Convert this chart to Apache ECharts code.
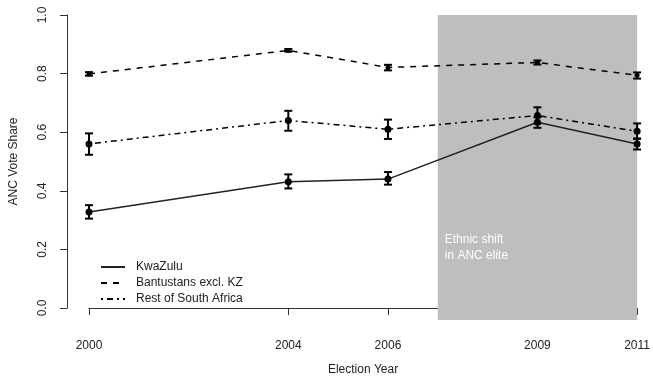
<!DOCTYPE html>
<html>
<head>
<meta charset="utf-8">
<script src="https://cdn.jsdelivr.net/npm/echarts@6/dist/echarts.min.js"></script>
<style>html,body{margin:0;padding:0;background:#fff}#c{width:653px;height:381px}</style>
</head>
<body>
<div id="c"></div>
<script>
// ---- data ----
const years = [2000, 2004, 2006, 2009, 2011];
const seriesNames = ['KwaZulu', 'Bantustans excl. KZ', 'Rest of South Africa'];
const kwazuluMean = [0.328, 0.431, 0.440, 0.634, 0.560];
const kwazuluLo   = [0.305, 0.408, 0.421, 0.615, 0.541];
const kwazuluHi   = [0.351, 0.456, 0.464, 0.651, 0.578];
const bantuMean = [0.799, 0.879, 0.821, 0.838, 0.794];
const bantuLo   = [0.793, 0.875, 0.811, 0.831, 0.783];
const bantuHi   = [0.805, 0.884, 0.830, 0.845, 0.804];
const restMean = [0.560, 0.640, 0.610, 0.657, 0.603];
const restLo   = [0.523, 0.605, 0.577, 0.630, 0.578];
const restHi   = [0.596, 0.673, 0.643, 0.685, 0.630];
const yTicks = [0, 0.2, 0.4, 0.6, 0.8, 1.0];
const shiftStart = 2007, shiftEnd = 2011;
const shiftLabel = 'Ethnic shift\nin ANC elite';
const shiftLabelPos = [2007.14, 0.262];

// ---- styles ----
const X_OFFSET = 12, Y_OFFSET = 22;
const FONT = 'Liberation Sans, Arial, Helvetica, sans-serif';
const AXIS_COLOR = '#333';

function pairs(m) { return years.map((y, i) => [y, m[i]]); }
function ebData(m, lo, hi) { return years.map((y, i) => [y, m[i], lo[i], hi[i]]); }

function errRender(r) {
  return function (params, api) {
    const x = api.value(0);
    const c = api.coord([x, api.value(1)]);
    const lo = api.coord([x, api.value(2)]);
    const hi = api.coord([x, api.value(3)]);
    const w = 4;
    const st = { stroke: '#000', lineWidth: 2 };
    return {
      type: 'group',
      children: [
        { type: 'line', shape: { x1: c[0], y1: lo[1], x2: c[0], y2: hi[1] }, style: st },
        { type: 'line', shape: { x1: c[0] - w, y1: lo[1], x2: c[0] + w, y2: lo[1] }, style: st },
        { type: 'line', shape: { x1: c[0] - w, y1: hi[1], x2: c[0] + w, y2: hi[1] }, style: st },
        { type: 'circle', shape: { cx: c[0], cy: c[1], r: r }, style: { fill: '#000' } }
      ]
    };
  };
}

const chart = echarts.init(document.getElementById('c'), null, { renderer: 'canvas' });
chart.setOption({
  animation: false,
  backgroundColor: '#fff',
  textStyle: { fontFamily: FONT },
  grid: { left: 89, right: 14, top: 15, bottom: 72 },
  xAxis: {
    type: 'value', min: 2000, max: 2011, offset: X_OFFSET,
    name: 'Election Year', nameLocation: 'middle', nameGap: 44,
    nameTextStyle: { fontSize: 12, color: '#222', fontFamily: FONT },
    axisLine: { lineStyle: { color: AXIS_COLOR, width: 1 } },
    axisTick: { length: 7, customValues: years, lineStyle: { color: AXIS_COLOR } },
    axisLabel: { customValues: years, margin: 20, fontSize: 12, color: '#222', fontFamily: FONT, formatter: v => String(v) },
    splitLine: { show: false }
  },
  yAxis: {
    type: 'value', min: 0, max: 1, interval: 0.2, offset: Y_OFFSET,
    name: 'ANC Vote Share', nameLocation: 'middle', nameGap: 47,
    nameTextStyle: { fontSize: 12, color: '#222', fontFamily: FONT },
    axisLine: { show: true, lineStyle: { color: AXIS_COLOR, width: 1 } },
    axisTick: { show: true, length: 7, customValues: yTicks, lineStyle: { color: AXIS_COLOR } },
    axisLabel: { customValues: yTicks, rotate: 90, margin: 18, fontSize: 12, color: '#222', fontFamily: FONT, formatter: v => v.toFixed(1) },
    splitLine: { show: false }
  },
  legend: {
    orient: 'vertical', left: 100, top: 261, padding: 0,
    data: seriesNames,
    itemWidth: 24, itemHeight: 10, itemGap: 4,
    itemStyle: { opacity: 0 },
    textStyle: { fontSize: 12, color: '#222', fontFamily: FONT, padding: [0, 0, 0, 6] }
  },
  series: [
    {
      type: 'custom', name: 'band', z: 1, silent: true, clip: false,
      data: [[shiftStart, shiftEnd]],
      renderItem: function (params, api) {
        const a = api.coord([api.value(0), 1]);
        const b = api.coord([api.value(1), 0]);
        const t = api.coord(shiftLabelPos);
        return {
          type: 'group',
          children: [
            { type: 'rect', shape: { x: a[0], y: a[1], width: b[0] - a[0], height: b[1] - a[1] + X_OFFSET }, style: { fill: '#bebebe' } },
            { type: 'text', x: t[0], y: t[1], style: { text: shiftLabel, fill: '#fff', font: '12px ' + FONT, lineHeight: 16, align: 'left', verticalAlign: 'top' } }
          ]
        };
      }
    },
    {
      type: 'line', name: seriesNames[0], data: pairs(kwazuluMean), symbol: 'none', z: 3,
      lineStyle: { color: '#222', width: 1.5, type: 'solid' }, itemStyle: { color: '#222' }
    },
    {
      type: 'line', name: seriesNames[1], data: pairs(bantuMean), symbol: 'none', z: 3,
      lineStyle: { color: '#000', width: 1.5, type: [6, 6] }, itemStyle: { color: '#000' }
    },
    {
      type: 'line', name: seriesNames[2], data: pairs(restMean), symbol: 'none', z: 3,
      lineStyle: { color: '#000', width: 1.5, type: [2, 4, 6, 4] }, itemStyle: { color: '#000' }
    },
    { type: 'custom', name: 'eb1', z: 4, data: ebData(kwazuluMean, kwazuluLo, kwazuluHi), renderItem: errRender(3.5) },
    { type: 'custom', name: 'eb2', z: 4, data: ebData(bantuMean, bantuLo, bantuHi), renderItem: errRender(2.5) },
    { type: 'custom', name: 'eb3', z: 4, data: ebData(restMean, restLo, restHi), renderItem: errRender(3.5) }
  ]
});
</script>
</body>
</html>
